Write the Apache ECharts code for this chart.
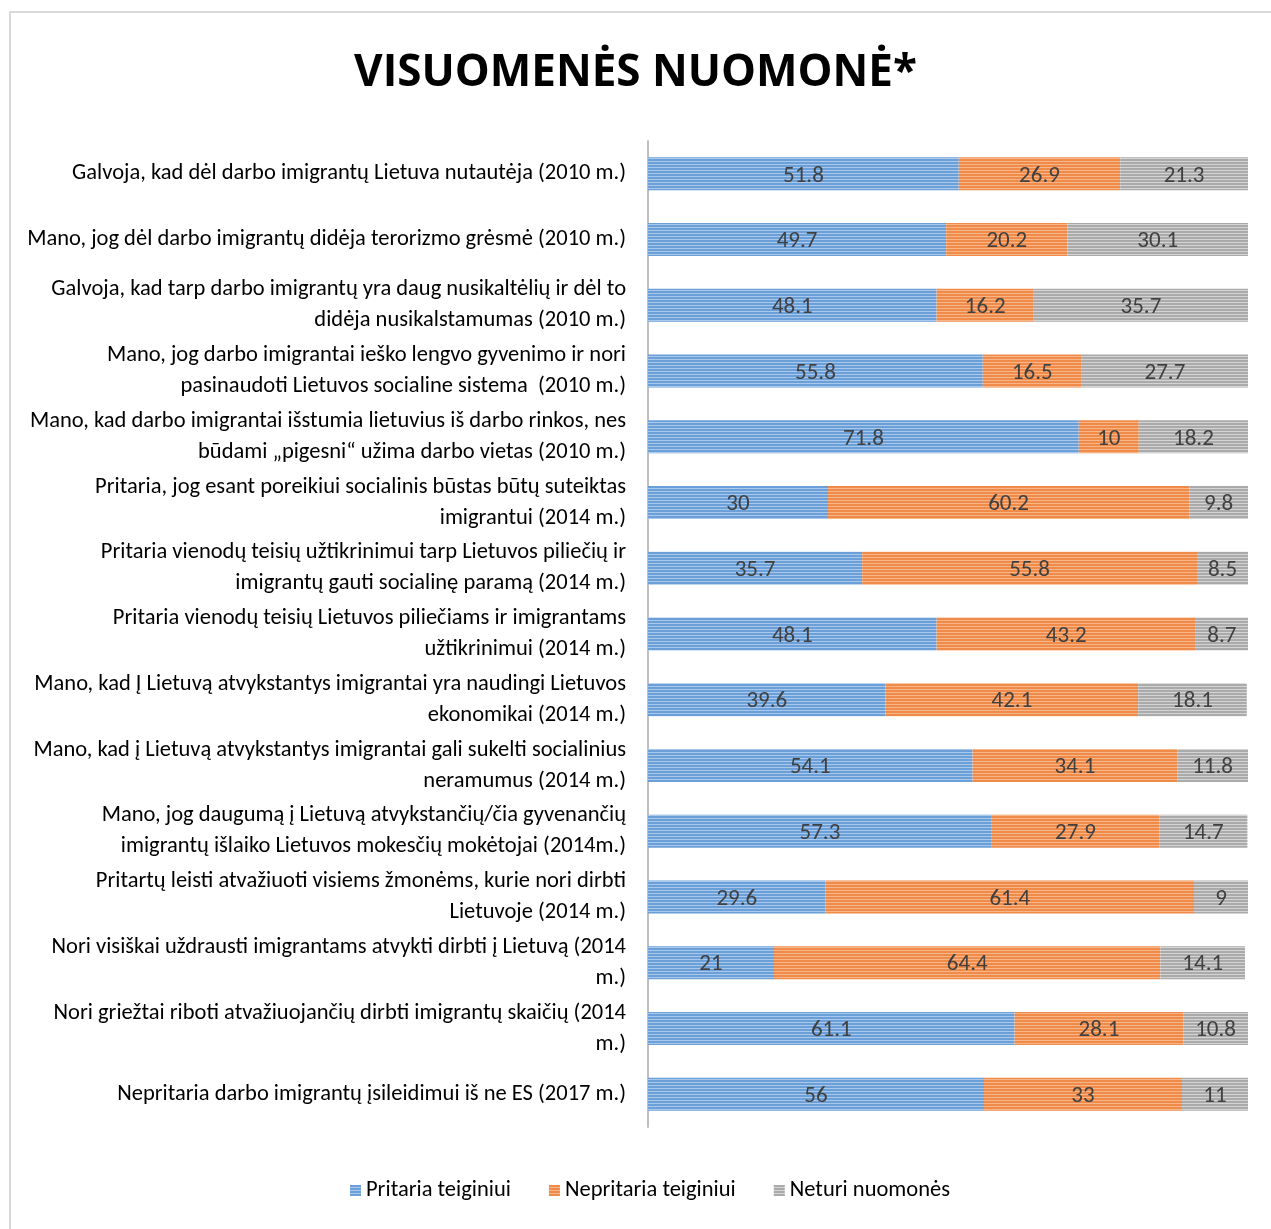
<!DOCTYPE html>
<html>
<head>
<meta charset="utf-8">
<script src="https://cdn.jsdelivr.net/npm/echarts@6/dist/echarts.min.js"></script>
<style>
  html, body { margin: 0; padding: 0; background: #fff; }
  #frame { position: absolute; left: 9px; top: 11px; width: 1300px; height: 1300px;
           border-left: 2px solid #d9d9d9; border-top: 2px solid #d9d9d9; }
  #container { position: absolute; left: 0; top: 0; width: 1271px; height: 1229px; }
</style>
</head>
<body>
<div id="frame"></div>
<div id="container"></div>
<script>
// kategorijos (eilutės iš viršaus į apačią)
var categories = [
    'Galvoja, kad dėl darbo imigrantų Lietuva nutautėja (2010 m.)',
    'Mano, jog dėl darbo imigrantų didėja terorizmo grėsmė (2010 m.)',
    'Galvoja, kad tarp darbo imigrantų yra daug nusikaltėlių ir dėl to\ndidėja nusikalstamumas (2010 m.)',
    'Mano, jog darbo imigrantai ieško lengvo gyvenimo ir nori\npasinaudoti Lietuvos socialine sistema  (2010 m.)',
    'Mano, kad darbo imigrantai išstumia lietuvius iš darbo rinkos, nes\nbūdami „pigesni“ užima darbo vietas (2010 m.)',
    'Pritaria, jog esant poreikiui socialinis būstas būtų suteiktas\nimigrantui (2014 m.)',
    'Pritaria vienodų teisių užtikrinimui tarp Lietuvos piliečių ir\nimigrantų gauti socialinę paramą (2014 m.)',
    'Pritaria vienodų teisių Lietuvos piliečiams ir imigrantams\nužtikrinimui (2014 m.)',
    'Mano, kad Į Lietuvą atvykstantys imigrantai yra naudingi Lietuvos\nekonomikai (2014 m.)',
    'Mano, kad į Lietuvą atvykstantys imigrantai gali sukelti socialinius\nneramumus (2014 m.)',
    'Mano, jog daugumą į Lietuvą atvykstančių/čia gyvenančių\nimigrantų išlaiko Lietuvos mokesčių mokėtojai (2014m.)',
    'Pritartų leisti atvažiuoti visiems žmonėms, kurie nori dirbti\nLietuvoje (2014 m.)',
    'Nori visiškai uždrausti imigrantams atvykti dirbti į Lietuvą (2014\nm.)',
    'Nori griežtai riboti atvažiuojančių dirbti imigrantų skaičių (2014\nm.)',
    'Nepritaria darbo imigrantų įsileidimui iš ne ES (2017 m.)'
];
// Pritaria teiginiui
var pritaria = [51.8, 49.7, 48.1, 55.8, 71.8, 30, 35.7, 48.1, 39.6, 54.1, 57.3, 29.6, 21, 61.1, 56];
// Nepritaria teiginiui
var nepritaria = [26.9, 20.2, 16.2, 16.5, 10, 60.2, 55.8, 43.2, 42.1, 34.1, 27.9, 61.4, 64.4, 28.1, 33];
// Neturi nuomonės
var neturi = [21.3, 30.1, 35.7, 27.7, 18.2, 9.8, 8.5, 8.7, 18.1, 11.8, 14.7, 9, 14.1, 10.8, 11];

var seriesNames = ['Pritaria teiginiui', 'Nepritaria teiginiui', 'Neturi nuomonės'];

var fontFam = 'Carlito, "Liberation Sans Narrow", "Liberation Sans", sans-serif';

// dryžuotas užpildas kaip Excel'yje
function stripes(base, light) {
    var c = document.createElement('canvas');
    c.width = 4; c.height = 3;
    var ctx = c.getContext('2d');
    ctx.fillStyle = base; ctx.fillRect(0, 0, 4, 3);
    ctx.fillStyle = light; ctx.fillRect(0, 2, 4, 1);
    return { image: c, repeat: 'repeat' };
}
var fills = [
    stripes('#6a9fd8', '#a9c8ec'),
    stripes('#ef8a48', '#f6b68a'),
    stripes('#aaaaaa', '#d4d4d4')
];

function makeSeries(name, data, i) {
    return {
        name: name,
        type: 'bar',
        stack: 'total',
        barWidth: 33,
        data: data,
        itemStyle: { color: fills[i] },
        label: {
            show: true,
            position: 'inside',
            color: '#404040',
            fontSize: 23,
            fontFamily: fontFam,
            offset: [0, 2]
        }
    };
}

var myChart = echarts.init(document.getElementById('container'));
var option = {
    backgroundColor: 'transparent',
    animation: false,
    title: {
        text: 'VISUOMENĖS NUOMONĖ*',
        left: 'center',
        top: 46,
        textStyle: {
            fontFamily: '"Open Sans", sans-serif',
            fontWeight: 'bold',
            fontSize: 44,
            color: '#000'
        }
    },
    legend: {
        bottom: 22,
        left: 345,
        itemWidth: 11,
        itemHeight: 11,
        itemGap: 38,
        icon: 'rect',
        textStyle: { fontSize: 22.5, color: '#000', fontFamily: fontFam },
        data: seriesNames
    },
    grid: { left: 648, right: 23, top: 141, bottom: 102 },
    xAxis: {
        type: 'value',
        min: 0,
        max: 100,
        show: false,
        splitLine: { show: false }
    },
    yAxis: {
        type: 'category',
        inverse: true,
        data: categories,
        axisLine: { show: true, lineStyle: { color: '#bfbfbf', width: 2 } },
        axisTick: { show: false },
        axisLabel: {
            margin: 22,
            fontSize: 22.5,
            lineHeight: 31,
            color: '#000',
            fontFamily: fontFam,
            align: 'right'
        }
    },
    series: [
        makeSeries(seriesNames[0], pritaria, 0),
        makeSeries(seriesNames[1], nepritaria, 1),
        makeSeries(seriesNames[2], neturi, 2)
    ]
};
myChart.setOption(option);
</script>
</body>
</html>
